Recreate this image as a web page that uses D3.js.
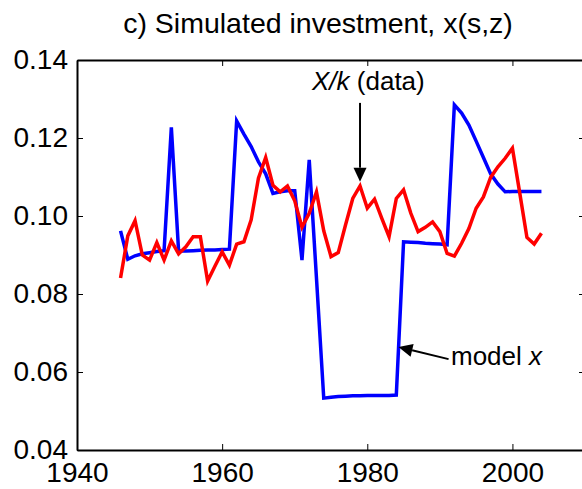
<!DOCTYPE html>
<html>
<head>
<meta charset="utf-8">
<script src="https://cdn.jsdelivr.net/npm/d3@7"></script>
<style>
  body { margin: 0; background: #fff; }
  svg { display: block; font-family: "Liberation Sans", Arial, sans-serif; }
</style>
</head>
<body>
<svg id="chart" width="582" height="489"></svg>
<script>
var years = [1946, 1947, 1948, 1949, 1950, 1951, 1952, 1953, 1954, 1955,
  1956, 1957, 1958, 1959, 1960, 1961, 1962, 1963, 1964, 1965,
  1966, 1967, 1968, 1969, 1970, 1971, 1972, 1973, 1974, 1975,
  1976, 1977, 1978, 1979, 1980, 1981, 1982, 1983, 1984, 1985,
  1986, 1987, 1988, 1989, 1990, 1991, 1992, 1993, 1994, 1995,
  1996, 1997, 1998, 1999, 2000, 2001, 2002, 2003, 2004];

// model x (blue)
var modelX = [0.0962, 0.0889, 0.0898, 0.0903, 0.0906, 0.0909, 0.0911, 0.1227, 0.0910, 0.0910,
  0.0911, 0.0912, 0.0913, 0.0913, 0.0914, 0.0915, 0.1244, 0.1210, 0.1178, 0.1139,
  0.1108, 0.1058, 0.1062, 0.1065, 0.1065, 0.0887, 0.1144, 0.0840, 0.0533, 0.0535,
  0.0537, 0.0538, 0.0539, 0.0539, 0.0540, 0.0540, 0.0540, 0.0540, 0.0541, 0.0934,
  0.0933, 0.0932, 0.0930, 0.0929, 0.0928, 0.0926, 0.1285, 0.1264, 0.1233, 0.1192,
  0.1150, 0.1108, 0.1082, 0.1062, 0.1063, 0.1063, 0.1063, 0.1063, 0.1063];

// X/k data (red)
var dataXk = [0.0841, 0.0949, 0.0988, 0.0900, 0.0887, 0.0932, 0.0887, 0.0936, 0.0903, 0.0921,
  0.0947, 0.0947, 0.0833, 0.0871, 0.0908, 0.0874, 0.0928, 0.0934, 0.0990, 0.1097,
  0.1150, 0.1079, 0.1062, 0.1077, 0.1039, 0.0971, 0.1007, 0.1062, 0.0962, 0.0896,
  0.0906, 0.0977, 0.1045, 0.1077, 0.1020, 0.1043, 0.0994, 0.0947, 0.1045, 0.1067,
  0.1007, 0.0960, 0.0971, 0.0985, 0.0960, 0.0904, 0.0897, 0.0930, 0.0968, 0.1020,
  0.1049, 0.1099, 0.1126, 0.1148, 0.1174, 0.1060, 0.0945, 0.0928, 0.0956];

var xTicks = [1940, 1960, 1980, 2000];
var yTicks = [0.04, 0.06, 0.08, 0.10, 0.12, 0.14];

var svg = d3.select("#chart");
var margin = {left: 77, right: 585, top: 60, bottom: 450};

var x = d3.scaleLinear().domain([1940, 2010]).range([margin.left, margin.right]);
var y = d3.scaleLinear().domain([0.04, 0.14]).range([margin.bottom, margin.top]);

// title
svg.append("text")
    .attr("x", 318)
    .attr("y", 33)
    .attr("text-anchor", "middle")
    .attr("font-size", 28.5)
    .text("c) Simulated investment, x(s,z)");

// lines
var line = d3.line()
    .x(function(d) { return x(d[0]); })
    .y(function(d) { return y(d[1]); });

svg.append("path")
    .datum(years.map(function(yr, i) { return [yr, modelX[i]]; }))
    .attr("fill", "none")
    .attr("stroke", "#0000ff")
    .attr("stroke-width", 3.5)
    .attr("d", line);

svg.append("path")
    .datum(years.map(function(yr, i) { return [yr, dataXk[i]]; }))
    .attr("fill", "none")
    .attr("stroke", "#ff0000")
    .attr("stroke-width", 3.5)
    .attr("d", line);

// axes, matlab box style with inward ticks
var fmt = d3.format(".2f");
var gl = svg.append("g")
    .attr("transform", "translate(" + margin.left + ",0)")
    .call(d3.axisLeft(y).tickValues(yTicks).tickFormat(fmt).tickSizeInner(-6).tickSizeOuter(0).tickPadding(9));
var gb = svg.append("g")
    .attr("transform", "translate(0," + margin.bottom + ")")
    .call(d3.axisBottom(x).tickValues(xTicks).tickFormat(d3.format("d")).tickSizeInner(-6).tickSizeOuter(0).tickPadding(12));
var gt = svg.append("g")
    .attr("transform", "translate(0," + margin.top + ")")
    .call(d3.axisTop(x).tickValues(xTicks).tickFormat("").tickSizeInner(-6).tickSizeOuter(0));
var gr = svg.append("g")
    .attr("transform", "translate(" + margin.right + ",0)")
    .call(d3.axisRight(y).tickValues(yTicks).tickFormat("").tickSizeInner(-6).tickSizeOuter(0));

[gl, gb, gt, gr].forEach(function(g) {
  g.selectAll(".domain").attr("stroke", "#000").attr("stroke-width", 2);
  g.selectAll(".tick line").attr("stroke", "#000").attr("stroke-width", 1);
  g.selectAll(".tick text")
    .attr("fill", "#000")
    .attr("font-size", 28)
    .attr("font-family", "Liberation Sans, Arial, sans-serif");
});

// annotations
function arrow(x0, y0, x1, y1) {
  var ang = Math.atan2(y1 - y0, x1 - x0), len = 14, half = 6.5;
  var bx = x1 - len * Math.cos(ang), by = y1 - len * Math.sin(ang);
  svg.append("line")
      .attr("x1", x0).attr("y1", y0)
      .attr("x2", bx).attr("y2", by)
      .attr("stroke", "#000")
      .attr("stroke-width", 2);
  svg.append("polygon")
      .attr("points", [
        [x1, y1],
        [bx + half * Math.sin(ang), by - half * Math.cos(ang)],
        [bx - half * Math.sin(ang), by + half * Math.cos(ang)]
      ].map(function(p) { return p.join(","); }).join(" "))
      .attr("fill", "#000");
}

arrow(x(1979), y(0.1290), x(1979), y(0.1088));
arrow(x(1991.2), y(0.0633), x(1984.3), y(0.0664));

var t1 = svg.append("text")
    .attr("x", 312)
    .attr("y", 90)
    .attr("font-size", 26);
t1.append("tspan").attr("font-style", "italic").text("X/k");
t1.append("tspan").text(" (data)");

var t2 = svg.append("text")
    .attr("x", 451)
    .attr("y", 365)
    .attr("font-size", 26);
t2.append("tspan").text("model ");
t2.append("tspan").attr("font-style", "italic").text("x");
</script>
</body>
</html>
